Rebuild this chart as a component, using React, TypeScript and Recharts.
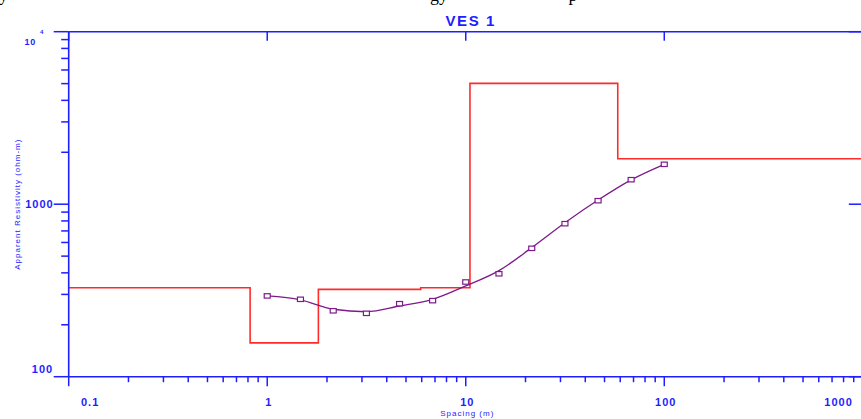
import React from 'react';
import { ComposedChart, Line, XAxis, YAxis } from 'recharts';

// VES 1 field sounding: half electrode spacing (m) and apparent resistivity (ohm-m)
const abHalf = [1, 1.47, 2.15, 3.16, 4.64, 6.81, 10, 14.7, 21.5, 31.6, 46.4, 68.1, 100];
const rhoObserved = [294, 281, 241, 233, 265, 276, 354, 395, 555, 771, 1048, 1387, 1703];
const rhoCalculated = [294, 279, 246, 238, 257, 281, 336, 412, 560, 781, 1057, 1384, 1703];

// layered earth model: depth to top of each layer and its resistivity
const layerTop = [0.1, 0.82, 1.81, 5.93, 10.5, 58.3, 1000];
const layerRho = [328, 157, 321, 328, 5020, 1835, 1835];

const xMajor = [0.1, 1, 10, 100, 1000];
const xMajorLabels = ['0.1', '1', '10', '100', '1000'];
const yMajor = [100, 1000, 10000];
const minorSteps = [2, 3, 4, 5, 6, 7, 8, 9];

const xMinor = [0.1, 1, 10, 100].flatMap(d => minorSteps.map(m => +(m * d).toPrecision(3)));
const yMinor = [100, 1000].flatMap(d => minorSteps.map(m => m * d));

const BLUE = '#1e1eff';
const RED = '#ff2b2b';
const PURPLE = '#7e1a8c';
const FONT = '"Liberation Sans", Arial, sans-serif';

const fieldData = abHalf.map((ab, i) => ({ ab, rho: rhoObserved[i] }));
const fitData = abHalf.map((ab, i) => ({ ab, rho: rhoCalculated[i] }));
const modelData = layerTop.map((ab, i) => ({ ab, rho: layerRho[i] }));

const labelStyle = {
  fill: BLUE,
  fontFamily: FONT,
  fontWeight: 700,
  fontSize: 11,
  letterSpacing: 1,
};

const BottomTick = (props: any) => {
  const { x, y, payload } = props;
  const idx = xMajor.indexOf(payload.value);
  const major = idx >= 0;
  let label = null;
  if (major) {
    const first = idx === 0;
    const last = idx === xMajor.length - 1;
    label = (
      <text
        x={first ? x + 12.3 : last ? x - 10 : x + 1.5}
        y={y + 29.3}
        textAnchor={first ? 'start' : last ? 'end' : 'middle'}
        style={labelStyle}
      >
        {xMajorLabels[idx]}
      </text>
    );
  }
  return (
    <g>
      <line x1={x} y1={y} x2={x} y2={y + (major ? 9.5 : 5.5)} stroke={BLUE} strokeWidth={1.5} />
      {label}
    </g>
  );
};

const TopTick = (props: any) => {
  const { x, y } = props;
  return <line x1={x} y1={y} x2={x} y2={y + 9} stroke={BLUE} strokeWidth={1.5} />;
};

const LeftTick = (props: any) => {
  const { x, y, payload } = props;
  const v = payload.value;
  const major = yMajor.includes(v);
  let label = null;
  if (v === 100) {
    label = (
      <text x={x - 15.5} y={y - 4} textAnchor="end" style={labelStyle}>
        100
      </text>
    );
  } else if (v === 1000) {
    label = (
      <text x={x - 15} y={y + 4} textAnchor="end" style={labelStyle}>
        1000
      </text>
    );
  } else if (v === 10000) {
    label = (
      <g style={{ fill: BLUE, fontFamily: FONT, fontWeight: 700 }}>
        <text x={x - 32.5} y={y + 13.3} textAnchor="end" fontSize={9} letterSpacing={0.8}>
          10
        </text>
        <text x={x - 28.6} y={y + 2.7} fontSize={6}>
          4
        </text>
      </g>
    );
  }
  return (
    <g>
      <line x1={x - (major ? 15 : 7.5)} y1={y} x2={x} y2={y} stroke={BLUE} strokeWidth={1.5} />
      {label}
    </g>
  );
};

const RightTick = (props: any) => {
  const { x, y } = props;
  return <line x1={x - 14} y1={y} x2={x} y2={y} stroke={BLUE} strokeWidth={1.5} />;
};

const SquareDot = (props: any) => {
  const { cx, cy, index } = props;
  if (cx == null || cy == null) return <g key={`sq-${index}`} />;
  return (
    <rect
      key={`sq-${index}`}
      x={cx - 3}
      y={cy - 2.2}
      width={6}
      height={4.4}
      fill="#fff"
      stroke={PURPLE}
      strokeWidth={1.2}
    />
  );
};

const titleLabel = (props: any) => {
  const { viewBox } = props;
  return (
    <text
      x={viewBox.x + viewBox.width / 2 + 5}
      y={viewBox.y + 4}
      textAnchor="middle"
      style={{ fill: BLUE, fontFamily: FONT, fontWeight: 700, fontSize: 15, letterSpacing: 1.6 }}
    >
      VES 1
    </text>
  );
};

const xTitle = (props: any) => {
  const { viewBox } = props;
  return (
    <text
      x={viewBox.x + viewBox.width / 2 + 1.5}
      y={viewBox.y + 39.3}
      textAnchor="middle"
      style={{ fill: BLUE, fontFamily: FONT, fontSize: 8, letterSpacing: 1 }}
    >
      Spacing (m)
    </text>
  );
};

const yTitle = (props: any) => {
  const { viewBox } = props;
  const cx = viewBox.x + 11.5;
  const cy = viewBox.y + viewBox.height / 2;
  return (
    <text
      x={cx}
      y={cy}
      transform={`rotate(-90 ${cx} ${cy})`}
      textAnchor="middle"
      style={{ fill: BLUE, fontFamily: FONT, fontSize: 8, letterSpacing: 1 }}
    >
      Apparent Resistivity (ohm-m)
    </text>
  );
};

export default function App() {
  const axisLine = { stroke: BLUE, strokeWidth: 1.6 };
  return (
    <div
      style={{
        position: 'absolute',
        left: 0,
        top: 0,
        width: 861,
        height: 419,
        overflow: 'hidden',
        background: '#fff',
      }}
    >
      <svg
        width={861}
        height={10}
        style={{ position: 'absolute', left: 0, top: 0 }}
        fontFamily='"Liberation Serif", "Times New Roman", serif'
        fontSize={18}
      >
        <text x={-1} y={1.3}>y</text>
        <text x={430} y={1.3}>gy</text>
        <text x={568.5} y={1.3}>p</text>
      </svg>
      <ComposedChart
        width={900}
        height={419}
        margin={{ top: 21.7, right: 17.2, bottom: 12.3, left: 8.7 }}
        style={{ position: 'absolute', left: 0, top: 0 }}
      >
        <XAxis
          xAxisId="bottom"
          dataKey="ab"
          type="number"
          scale="log"
          domain={[0.1, 1000]}
          allowDataOverflow
          ticks={[...xMajor, ...xMinor].sort((a, b) => a - b)}
          interval={0}
          tickSize={0}
          tickMargin={0}
          tickLine={false}
          tick={<BottomTick />}
          axisLine={axisLine}
          height={30}
          label={xTitle}
        />
        <XAxis
          xAxisId="top"
          orientation="top"
          dataKey="ab"
          type="number"
          scale="log"
          domain={[0.1, 1000]}
          allowDataOverflow
          ticks={xMajor}
          interval={0}
          tickSize={0}
          tickMargin={0}
          tickLine={false}
          tick={<TopTick />}
          axisLine={axisLine}
          height={10}
          label={titleLabel}
        />
        <YAxis
          yAxisId="left"
          dataKey="rho"
          type="number"
          scale="log"
          domain={[100, 10000]}
          allowDataOverflow
          ticks={[...yMajor, ...yMinor].sort((a, b) => a - b)}
          interval={0}
          tickSize={0}
          tickMargin={0}
          tickLine={false}
          tick={<LeftTick />}
          axisLine={axisLine}
          width={60}
          label={yTitle}
        />
        <YAxis
          yAxisId="right"
          orientation="right"
          dataKey="rho"
          type="number"
          scale="log"
          domain={[100, 10000]}
          allowDataOverflow
          ticks={yMajor}
          interval={0}
          tickSize={0}
          tickMargin={0}
          tickLine={false}
          tick={<RightTick />}
          axisLine={axisLine}
          width={20}
        />
        <Line
          xAxisId="bottom"
          yAxisId="left"
          data={modelData}
          dataKey="rho"
          type="stepAfter"
          stroke={RED}
          strokeWidth={1.6}
          dot={false}
          activeDot={false}
          isAnimationActive={false}
        />
        <Line
          xAxisId="bottom"
          yAxisId="left"
          data={fitData}
          dataKey="rho"
          type="monotone"
          stroke={PURPLE}
          strokeWidth={1.3}
          dot={false}
          activeDot={false}
          isAnimationActive={false}
        />
        <Line
          xAxisId="bottom"
          yAxisId="left"
          data={fieldData}
          dataKey="rho"
          stroke="none"
          dot={SquareDot}
          activeDot={false}
          isAnimationActive={false}
        />
      </ComposedChart>
    </div>
  );
}
